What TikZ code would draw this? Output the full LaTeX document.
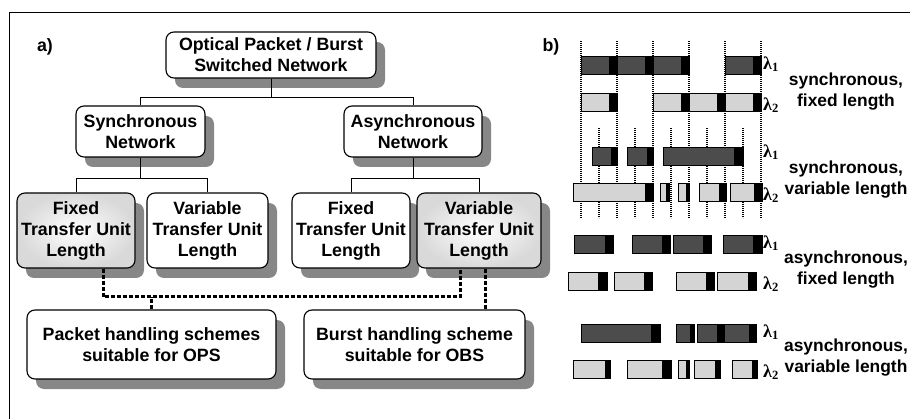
\documentclass[tikz,border=0pt]{standalone}
\usepackage{fontspec}
\setmainfont{Liberation Sans}
\newfontfamily\lamfont{Liberation Serif}
\usepackage{tikz}
\usetikzlibrary{calc}
\usetikzlibrary{positioning}
\usetikzlibrary{shadows}
\newcommand{\boxfont}{\bfseries\fontsize{17.8}{21}\selectfont}
\tikzset{unit/.style={rectangle,rounded corners=8pt,draw=black,line width=1.1pt,fill=white,inner sep=0pt,align=center,font=\boxfont,drop shadow={shadow xshift=9pt,shadow yshift=-10pt,fill=black!47,opacity=1}}}
\tikzset{sunit/.style={unit,shading=radial,inner color=white,outer color=black!15}}
\tikzset{wire/.style={draw=black,line width=0.9pt}}
\tikzset{link/.style={draw=black,line width=3pt,dash pattern=on 4pt off 2pt}}
\tikzset{tag/.style={font=\boxfont,align=center,inner sep=0pt}}
\tikzset{sect/.style={tag,font=\bfseries\fontsize{17.4}{21}\selectfont}}
\tikzset{lam/.style={anchor=west,inner sep=1pt,font=\lamfont\bfseries\fontsize{18}{18}\selectfont}}

\begin{document}
\begin{tikzpicture}[x=1pt,y=-1pt]
  % some styles
  \tikzset{
    dark/.style={fill=black!70},
    lite/.style={fill=black!17},
    edge/.style={draw=black,line width=0.7pt},
    grid/.style={draw=black,line width=1.4pt,dash pattern=on 1.2pt off 0.8pt}
  }
\useasboundingbox (0,0) rectangle (910,419);
\draw[line width=0.8pt] (9,419) -- (9,12) -- (910,12);

\node[tag] (lblA) at (45,47) {a)};
\node[tag] (lblB) at (551,47) {b)};

% tree
\node[unit,minimum width=210pt,minimum height=46pt] (root) at (271,55) {Optical Packet / Burst\\Switched Network};
\node[unit,minimum width=129pt,minimum height=51pt] (sync) at (140.5,131.5) {Synchronous\\Network};
\node[unit,minimum width=138pt,minimum height=51pt] (async) at (413,131.5) {Asynchronous\\Network};
\node[sunit,minimum width=118pt,minimum height=75pt] (fixS) at (76,230.5) {Fixed\\Transfer Unit\\Length};
\node[unit,minimum width=121pt,minimum height=75pt] (varS) at (207.5,230.5) {Variable\\Transfer Unit\\Length};
\node[unit,minimum width=118pt,minimum height=75pt] (fixA) at (351,230.5) {Fixed\\Transfer Unit\\Length};
\node[sunit,minimum width=124pt,minimum height=75pt] (varA) at (479,230.5) {Variable\\Transfer Unit\\Length};
\node[unit,minimum width=249pt,minimum height=69pt] (ops) at (151.5,344.5) {Packet handling schemes\\suitable for OPS};
\node[unit,minimum width=221pt,minimum height=69pt] (obs) at (414.5,344.5) {Burst handling scheme\\suitable for OBS};

\draw[wire] (root.south) -- ++(0,19) -| (sync.north);
\draw[wire] (root.south) -- ++(0,19) -| (async.north);
\draw[wire] (sync.south) -- ++(0,21) -| (fixS.north);
\draw[wire] (sync.south) -- ++(0,21) -| (varS.north);
\draw[wire] (async.south) -- ++(0,21) -| (fixA.north);
\draw[wire] (async.south) -- ++(0,21) -| (varA.north);

\coordinate (busL) at (103,297);
\coordinate (busR) at (460,297);
\draw[link] (fixS.south -| busL) -- (busL) -- (busR) -- (varA.south -| busR);
\draw[link] (ops.north) -- (ops.north |- busL);
\draw[link] ([xshift=6pt]varA.south) -- ([xshift=6pt]varA.south |- obs.north);

% time slots
\foreach \k in {0,...,5}
  \draw[grid] (581+36*\k,41) -- (581+36*\k,218);
\foreach \k in {0,...,4}
  \draw[grid] (599+36*\k,128) -- (599+36*\k,218);

\foreach \y/\c/\bars in {
    56/dark/{581/617/8,617/653/8,653/689/8,725/761/8},
    93/lite/{581/617/8,653/689/8,689/725/8,725/761/8},
    147/dark/{592/617/6,627/653/6,663/743/9},
    183/lite/{573/653/8,660/669/3,678/689/3,699/726/7,730/762/8},
    235/dark/{574/613/8,632/670/8,673/711/8,723/762/9},
    272/lite/{568/607/9,614/652/8,676/714/8,717/756/8},
    324/dark/{581/660/9,676/694/4,697/723/6,724/756/7},
    360/lite/{573/610/5,627/671/9,678/689/3,694/720/5,732/757/5}} {
  \foreach \a/\b/\t in \bars {
    \fill[\c] (\a,\y) rectangle (\b,\y+18);
    \fill[black] (\b-\t,\y) rectangle (\b,\y+18);
    \draw[edge] (\a,\y) rectangle (\b,\y+18);
  }
}

\foreach \n/\y in {a/64,b/152,c/243,d/332}
  \node[lam] (one\n) at (762,\y) {λ\textsubscript{1}};
\foreach \n/\y in {a/105,b/195,c/284,d/372}
  \node[lam] (two\n) at (762,\y) {λ\textsubscript{2}};

\node[sect] (secA) at (846,92) {synchronous,\\fixed length};
\node[sect] (secB) at (846,180) {synchronous,\\variable length};
\node[sect] (secC) at (846,270) {asynchronous,\\fixed length};
\node[sect] (secD) at (846,358) {asynchronous,\\variable length};
\end{tikzpicture}
\end{document}
